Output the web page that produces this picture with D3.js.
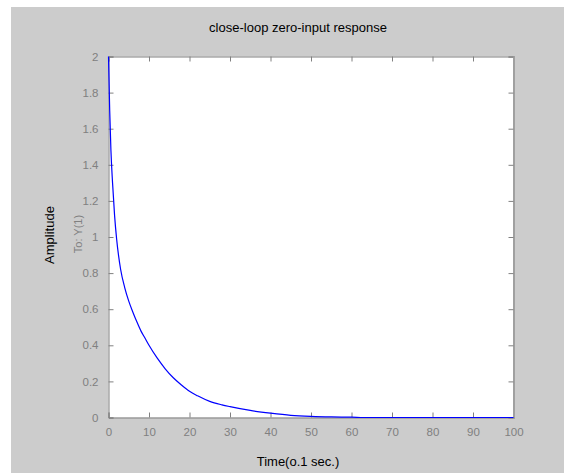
<!DOCTYPE html>
<html>
<head>
<meta charset="utf-8">
<script src="https://cdn.jsdelivr.net/npm/d3@7"></script>
<style>
  body { margin: 0; background: #ffffff; }
  svg { display: block; font-family: "Liberation Sans", Arial, sans-serif; }
</style>
</head>
<body>
<svg id="chart" width="564" height="473"></svg>
<script>
// values
var timeValues = [0, 0.3, 0.6, 1, 1.5, 2, 3, 4, 5, 6, 7, 8, 9, 10, 12, 14, 16, 18, 20, 22, 25, 28, 30, 35, 40, 45, 50, 55, 60, 63, 70, 80, 90, 100];
var amplitudeValues = [2, 1.70, 1.48, 1.30, 1.12, 0.99, 0.82, 0.72, 0.645, 0.585, 0.53, 0.48, 0.44, 0.40, 0.33, 0.27, 0.22, 0.18, 0.145, 0.12, 0.089, 0.07, 0.06, 0.039, 0.024, 0.012, 0.006, 0.003, 0.002, 0, 0, 0, 0, 0];
var xTicks = [0, 10, 20, 30, 40, 50, 60, 70, 80, 90, 100];
var yTicks = [0, 0.2, 0.4, 0.6, 0.8, 1, 1.2, 1.4, 1.6, 1.8, 2];

var chartTitle = "close-loop zero-input response";
var xTitle = "Time(o.1 sec.)";
var yTitle = "Amplitude";
var ySubTitle = "To: Y(1)";

// set the dimensions and margins of the graph
var margin = { top: 56.5, left: 108.5 },
  width = 405,
  height = 361;

var root = d3.select("#chart");

// grey figure background
root.append("rect")
  .attr("x", 11).attr("y", 7)
  .attr("width", 553).attr("height", 466)
  .attr("fill", "#cccccc");

var svg = root.append("g")
  .attr("transform", "translate(" + margin.left + "," + margin.top + ")");

var xScale = d3.scaleLinear().domain([0, 100]).range([0, width]);
var yScale = d3.scaleLinear().domain([0, 2]).range([height, 0]);

// plot area
svg.append("rect")
  .attr("width", width).attr("height", height)
  .attr("fill", "#ffffff");

var tickColor = "#808080";

// bottom axis with labels
var xAxis = d3.axisBottom(xScale).tickValues(xTicks).tickSize(-5).tickPadding(10)
  .tickFormat(d3.format("d"));
var gx = svg.append("g").attr("transform", "translate(0," + height + ")").call(xAxis);

// left axis with labels
var yAxis = d3.axisLeft(yScale).tickValues(yTicks).tickSize(-5).tickPadding(10)
  .tickFormat(function (d) { return String(+d.toFixed(1)); });
var gy = svg.append("g").call(yAxis);

// top and right box lines with inward ticks, no labels
var gt = svg.append("g").call(d3.axisTop(xScale).tickValues(xTicks).tickSize(-5).tickFormat(""));
var gr = svg.append("g").attr("transform", "translate(" + width + ",0)")
  .call(d3.axisRight(yScale).tickValues(yTicks).tickSize(-5).tickFormat(""));

[gx, gy, gt, gr].forEach(function (g) {
  g.select(".domain").attr("stroke", tickColor);
  g.selectAll(".tick line").attr("stroke", tickColor);
  g.selectAll(".tick text")
    .attr("fill", tickColor)
    .style("font-size", "11.5px")
    .style("font-family", "'Liberation Sans', Arial, sans-serif");
});
gr.select(".domain").attr("stroke", "#a0a0a0").attr("stroke-width", 2);

// response curve
var line = d3.line()
  .x(function (d, i) { return xScale(timeValues[i]); })
  .y(function (d) { return yScale(d); })
  .curve(d3.curveMonotoneX);

svg.append("path")
  .datum(amplitudeValues)
  .attr("d", line)
  .attr("fill", "none")
  .attr("stroke", "#0000ff")
  .attr("stroke-width", 1.2);

// titles
root.append("text")
  .attr("x", 298).attr("y", 32)
  .attr("text-anchor", "middle")
  .style("font-size", "13px")
  .attr("fill", "#000000")
  .text(chartTitle);

root.append("text")
  .attr("x", 298).attr("y", 466)
  .attr("text-anchor", "middle")
  .style("font-size", "13px")
  .attr("fill", "#000000")
  .text(xTitle);

root.append("text")
  .attr("transform", "translate(54,235)rotate(-90)")
  .attr("text-anchor", "middle")
  .style("font-size", "13px")
  .attr("fill", "#000000")
  .text(yTitle);

root.append("text")
  .attr("transform", "translate(82,234)rotate(-90)")
  .attr("text-anchor", "middle")
  .style("font-size", "11px")
  .attr("fill", tickColor)
  .text(ySubTitle);
</script>
</body>
</html>
